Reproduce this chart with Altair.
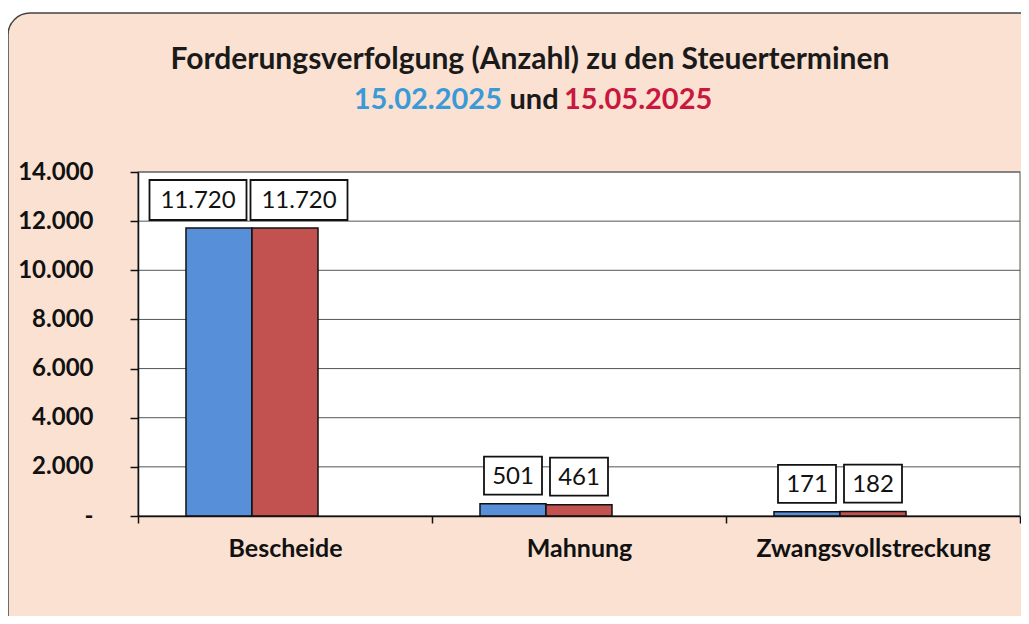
import altair as alt
import pandas as pd

categories = ["Bescheide", "Mahnung", "Zwangsvollstreckung"]
series = ["15.02.2025", "15.05.2025"]
values_feb = [11720, 501, 171]
values_may = [11720, 461, 182]
y_ticks = [0, 2000, 4000, 6000, 8000, 10000, 12000, 14000]

title_line = "Forderungsverfolgung (Anzahl) zu den Steuerterminen"
sub_left, sub_mid, sub_right = "15.02.2025", "und", "15.05.2025"

BLUE = "#5790d8"
RED = "#c2524f"
W, H = 882, 344
FONT = "Lato"

rows = []
for c, a, b in zip(categories, values_feb, values_may):
    rows.append({"category": c, "series": series[0], "value": a})
    rows.append({"category": c, "series": series[1], "value": b})
df = pd.DataFrame(rows)

yscale = alt.Scale(domain=[0, 14000], nice=False, zero=True)
xscale = alt.Scale(domain=categories, paddingInner=0, paddingOuter=0)

y_axis = alt.Axis(values=y_ticks, grid=False, tickSize=8, labelPadding=37,
                  labelFont=FONT, labelFontSize=24, labelFontWeight="bold",
                  labelColor="#111", domainColor="#111", tickColor="#111",
                  domainWidth=1.5, tickWidth=1.5, zindex=1, title=None,
                  labelExpr="datum.value == 0 ? '-\u00a0\u00a0' : replace(format(datum.value, ',.0f'), ',', '.')")

one = pd.DataFrame({"k": [0]})

bg = alt.Chart(one).mark_rect(
    cornerRadius=22, fill="#fbe1d1", stroke="#444", strokeWidth=1.5
).encode(x=alt.value(-130), x2=alt.value(905), y=alt.value(-159), y2=alt.value(470))

plotbg = alt.Chart(one).mark_rect(
    fill="white", stroke="#777", strokeWidth=1.2
).encode(x=alt.value(0), x2=alt.value(W), y=alt.value(0), y2=alt.value(H))

grid = alt.Chart(pd.DataFrame({"value": y_ticks})).mark_rule(
    color="#555", strokeWidth=1
).encode(y=alt.Y("value:Q", scale=yscale, axis=y_axis, title=None))

bars = alt.Chart(df).mark_bar(stroke="#111", strokeWidth=1.5).encode(
    x=alt.X("category:N", sort=categories, scale=xscale, title=None,
            axis=alt.Axis(labelAngle=0, tickBand="extent", tickSize=7, labelLimit=0,
                          labelPadding=13, labelFont=FONT, labelFontSize=25,
                          labelFontWeight="bold", labelColor="#111",
                          domainColor="#111", tickColor="#111", domainWidth=1.5,
                          tickWidth=1.5, zindex=1)),
    xOffset=alt.XOffset("series:N", scale=alt.Scale(domain=series + ["_"],
                                                     paddingInner=0, paddingOuter=0.727)),
    y=alt.Y("value:Q", scale=yscale, title=None, axis=y_axis),
    color=alt.Color("series:N", scale=alt.Scale(domain=series, range=[BLUE, RED]), legend=None),
)


def labels(ser, big, xoff, w, h):
    cond = "datum.value >= 1000" if big else "datum.value < 1000"
    base = alt.Chart(df).transform_filter(
        f"datum.series == '{ser}' && {cond}"
    ).transform_calculate(
        label="replace(format(datum.value, ',.0f'), ',', '.')"
    )
    box = base.mark_rect(width=w, height=h, xOffset=xoff, yOffset=-28,
                         fill="white", stroke="#111", strokeWidth=1.8).encode(
        x=alt.X("category:N", sort=categories, scale=xscale),
        y=alt.Y("value:Q", scale=yscale),
    )
    txt = base.mark_text(dx=xoff, dy=-27, font=FONT, fontSize=24, color="#111",
                         baseline="middle", align="center").encode(
        x=alt.X("category:N", sort=categories, scale=xscale),
        y=alt.Y("value:Q", scale=yscale),
        text="label:N",
    )
    return [box, txt]


lab_layers = []
lab_layers += labels(series[0], True, -87, 97, 40)
lab_layers += labels(series[1], True, 14, 97, 40)
lab_layers += labels(series[0], False, -66, 58, 38)
lab_layers += labels(series[1], False, 0, 58, 38)

t1 = alt.Chart(one).mark_text(font=FONT, fontSize=30, fontWeight="bold", color="#1a1a1a",
                               align="center", baseline="middle").encode(
    x=alt.value(392), y=alt.value(-112), text=alt.value(title_line))
t2 = alt.Chart(one).mark_text(font=FONT, fontSize=29, fontWeight="bold", color="#3a9ad8",
                               align="right", baseline="middle").encode(
    x=alt.value(364), y=alt.value(-72), text=alt.value(sub_left))
t3 = alt.Chart(one).mark_text(font=FONT, fontSize=29, fontWeight="bold", color="#1a1a1a",
                               align="center", baseline="middle").encode(
    x=alt.value(396), y=alt.value(-72), text=alt.value(sub_mid))
t4 = alt.Chart(one).mark_text(font=FONT, fontSize=29, fontWeight="bold", color="#c8183f",
                               align="left", baseline="middle").encode(
    x=alt.value(426), y=alt.value(-72), text=alt.value(sub_right))

chart = alt.layer(bg, plotbg, grid, bars, *lab_layers, t1, t2, t3, t4).properties(
    width=W, height=H,
    padding={"left": 130, "top": 164, "right": 1, "bottom": 100},
    autosize=alt.AutoSizeParams(type="none"),
    background="white",
).configure_view(stroke=None)

chart.save("out.html", embed_options={"renderer": "svg", "actions": False})
